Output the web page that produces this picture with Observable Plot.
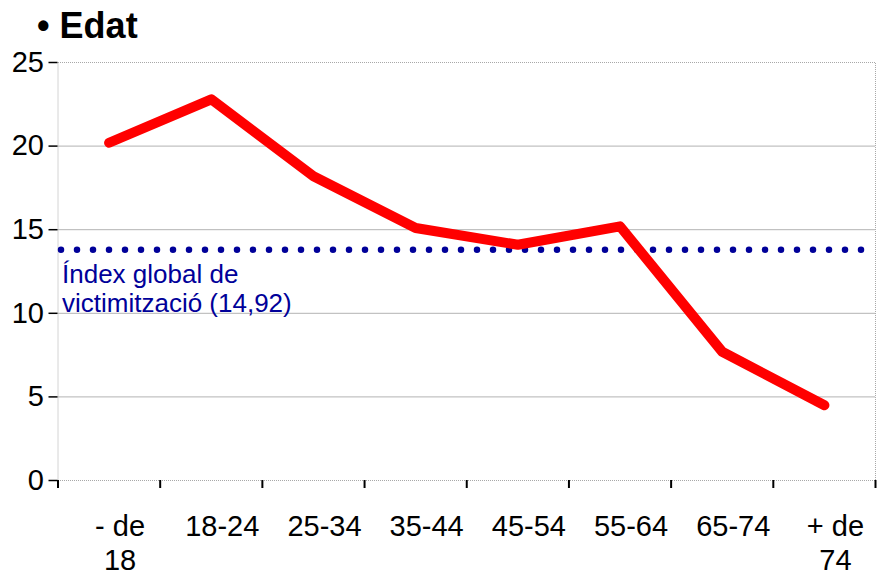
<!DOCTYPE html>
<html>
<head>
<meta charset="utf-8">
<script src="https://cdn.jsdelivr.net/npm/d3@7"></script>
<script src="https://cdn.jsdelivr.net/npm/@observablehq/plot@0.6"></script>
<style>
  html, body { margin: 0; padding: 0; background: #fff; }
  #chart { position: relative; width: 877px; height: 576px; overflow: hidden; }
  #title { position: absolute; left: 37px; top: 6px; font: bold 36px "Liberation Sans", Arial, sans-serif; color: #000; white-space: pre; line-height: 40px; }
  #chart svg { position: absolute; left: 0; top: 0; }
</style>
</head>
<body>
<div id="chart"><div id="title">• Edat</div></div>
<script>
const titleText = "• Edat";
const categories = ["- de\n18", "18-24", "25-34", "35-44", "45-54", "55-64", "65-74", "+ de\n74"];
const values = [20.2, 22.8, 18.2, 15.1, 14.1, 15.2, 7.7, 4.5];
const referenceValue = [13.8];
const referenceLabel = "Índex global de\nvictimització (14,92)";
const yTicks = [0, 5, 10, 15, 20, 25];
const gridTicks = [5, 10, 15, 20];

const data = categories.map((c, i) => ({i, c, v: values[i]}));
const idx = categories.map((c, i) => i);
const boundaries = categories.map((c, i) => i - 0.5).concat([categories.length - 0.5]);

const font = "Liberation Sans, Arial, sans-serif";

const chart = Plot.plot({
  width: 877,
  height: 576,
  marginTop: 62,
  marginBottom: 96,
  marginLeft: 57.5,
  marginRight: 2,
  style: {fontFamily: font, background: "transparent", overflow: "visible"},
  x: {type: "linear", domain: [-0.5, categories.length - 0.5]},
  y: {domain: [0, 25]},
  marks: [
    Plot.gridY(gridTicks, {stroke: "#b3b3b3", strokeOpacity: 1, strokeWidth: 1}),
    Plot.frame({stroke: "#a8a8a8", strokeWidth: 1, strokeDasharray: "1,1"}),
    Plot.axisY(yTicks, {tickSize: 9, tickPadding: 5, fontSize: 29, stroke: "#000", strokeWidth: 1.5, fill: "#000", label: null}),
    Plot.axisX(boundaries, {tickSize: 8, tickFormat: () => "", stroke: "#000", strokeWidth: 2, label: null}),
    Plot.axisX(idx, {tickSize: 0, tickPadding: 31, dx: 11, fontSize: 29, lineHeight: 1.17, fill: "#000", tickFormat: i => categories[i], label: null}),
    Plot.ruleY(referenceValue, {stroke: "#000099", strokeWidth: 6.5, strokeLinecap: "round", strokeDasharray: "0,16", strokeDashoffset: 12.5}),
    Plot.text([referenceLabel], {frameAnchor: "left", x: -0.5, y: referenceValue[0], dx: 4, dy: 12, lineAnchor: "top", lineHeight: 1.13, fontSize: 26, fill: "#000099", textAnchor: "start"}),
    Plot.line(data, {x: "i", y: "v", stroke: "#ff0000", strokeWidth: 10, strokeLinecap: "round", strokeLinejoin: "round"})
  ]
});
document.getElementById("chart").prepend(chart);
document.getElementById("title").textContent = titleText;
</script>
</body>
</html>
